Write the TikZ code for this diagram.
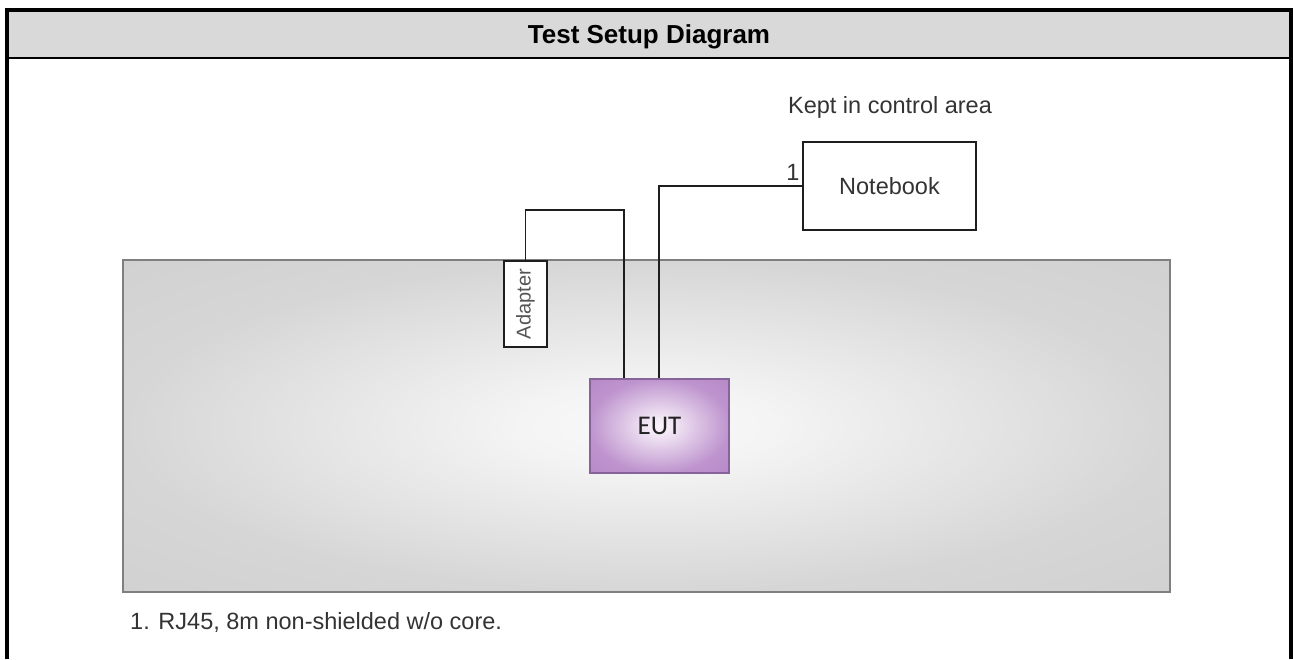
\documentclass[tikz,border=0pt]{standalone}
\usepackage{fontspec}
\setmainfont{Liberation Sans}
\newfontfamily\eutfont{Carlito}
\definecolor{hdrgray}{HTML}{D9D9D9}
\definecolor{tblborder}{HTML}{7F7F7F}
\definecolor{wirecol}{HTML}{1E1E1E}
\definecolor{txtgray}{HTML}{333333}
\definecolor{adgray}{HTML}{555555}
\definecolor{eutborder}{HTML}{86649A}
\pgfdeclareradialshading{tblshade}{\pgfpoint{0bp}{0bp}}{%
  color(0bp)=(rgb,255:red,249;green,249;blue,249);
  color(6bp)=(rgb,255:red,244;green,244;blue,244);
  color(25bp)=(rgb,255:red,214;green,214;blue,214);
  color(50bp)=(rgb,255:red,202;green,202;blue,202)}
\pgfdeclareradialshading{eutshade}{\pgfpoint{0bp}{0bp}}{%
  color(0bp)=(rgb,255:red,250;green,244;blue,250);
  color(4bp)=(rgb,255:red,244;green,234;blue,246);
  color(25bp)=(rgb,255:red,190;green,148;blue,206);
  color(50bp)=(rgb,255:red,170;green,122;blue,188)}
\begin{document}
\begin{tikzpicture}[x=1pt,y=-1pt,
  frameline/.style={line width=4pt,black},
  hdrline/.style={line width=2.5pt,black},
  wire/.style={line width=1.6pt,draw=wirecol},
  whitebox/.style={draw=wirecol,fill=white,line width=1.8pt,inner sep=0pt},
  plaintext/.style={font=\fontsize{23.5}{28}\selectfont,text=txtgray,inner sep=0pt},
  titletext/.style={font=\fontsize{26}{30}\selectfont\bfseries,text=black,inner sep=0pt}]
\useasboundingbox (0,0) rectangle (1293,659);
% header band
\fill[hdrgray] (7,10) rectangle (1291,58);
\draw[hdrline] (7,58) -- (1291,58);
\draw[frameline] (7,659) -- (7,10) -- (1291,10) -- (1291,659);
\node[titletext,anchor=base] (title) at (649,43) {Test Setup Diagram};
% table
\node[draw=tblborder,line width=2pt,shading=tblshade,
  minimum width=1047pt,minimum height=332pt,inner sep=0pt] (table) at (646.5,426) {};
% EUT
\node[draw=eutborder,line width=1.5pt,shading=eutshade,
  minimum width=139pt,minimum height=94pt,inner sep=0pt,
  font=\eutfont\fontsize{27}{30}\selectfont,text={rgb,255:red,35;green,35;blue,35}] (eut) at (659.5,426) {EUT};
% adapter
\node[whitebox,minimum width=43pt,minimum height=86pt] (adapter) at (525.5,304) {};
\node[rotate=90,font=\fontsize{20}{24}\selectfont,text=adgray,inner sep=0pt] (adlabel) at (adapter.center) {Adapter};
% notebook
\node[whitebox,minimum width=173pt,minimum height=88pt,plaintext] (notebook) at (889.5,186) {Notebook};
\node[plaintext,anchor=base] (kept) at (890,113) {Kept in control area};
% wires
\coordinate (eutA) at ([xshift=-35.5pt]eut.north);
\coordinate (eutB) at ([xshift=-0.5pt]eut.north);
\draw[wire] (adapter.north) |- (624,210) -- (eutA);
\draw[wire] (eutB) |- (notebook.west);
\node[plaintext,anchor=base] (one) at (793,180) {1};
% footnote
\node[plaintext,anchor=base west] (note) at (130,629) {1. RJ45, 8m non-shielded w/o core.};
\end{tikzpicture}
\end{document}
